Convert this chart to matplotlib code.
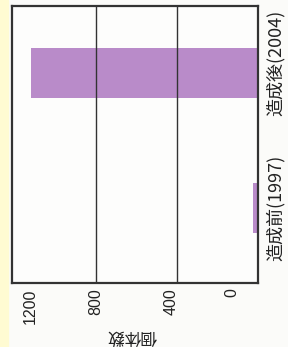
import matplotlib.pyplot as plt
import matplotlib.transforms as mtransforms

plt.rcParams['font.family'] = ['Noto Sans CJK JP', 'DejaVu Sans']

# data (individual counts)
periods = ['造成前(1997)', '造成後(2004)']
counts = [25, 1120]
value_ticks = [1200, 800, 400, 0]
value_labels = ['1200', '800', '400', '0']
# the printed tick labels sit slightly off their grid lines in the scan
label_shift_px = [15, 0, -6, -26]
period_shift_px = [0, 10]

fig = plt.figure(figsize=(2.88, 3.47), dpi=100)
fig.patch.set_facecolor('#fbfbf9')
# pale yellow strip along the left edge of the scan
fig.add_artist(plt.Rectangle((0, 0), 8 / 288, 1, transform=fig.transFigure,
                             color='#fffbd2', zorder=0))

ax = fig.add_axes([12 / 288, 1 - 283 / 347, 246 / 288, 277 / 347])
ax.set_facecolor('#fdfdfc')

pos = range(len(periods))
ax.barh(pos, counts, height=0.37, color='#b98bc9', zorder=2)

ax.set_xlim(1215, 0)
ax.set_ylim(-0.556, 1.496)

ax.set_xticks(value_ticks)
ax.set_xticklabels(value_labels, rotation=90, fontsize=11.5,
                   family=['Liberation Sans', 'DejaVu Sans'], color='#222222')
ax.tick_params(axis='x', length=0, pad=4)

ax.yaxis.tick_right()
ax.set_yticks(list(pos))
ax.set_yticklabels(periods, rotation=90, fontsize=13, va='center', color='#222222')
ax.tick_params(axis='y', length=0, pad=6)

# shift labels after tick_params (it resets the label transforms)
for lab, dx in zip(ax.get_xticklabels(), label_shift_px):
    lab.set_transform(lab.get_transform() +
                      mtransforms.ScaledTranslation(dx / 100, 0, fig.dpi_scale_trans))
for tick, dy in zip(ax.yaxis.get_major_ticks(), period_shift_px):
    tick.label2.set_transform(tick.label2.get_transform() +
                              mtransforms.ScaledTranslation(0, dy / 100, fig.dpi_scale_trans))

ax.grid(axis='x', color='#333333', linewidth=1.0, zorder=1)
ax.xaxis.get_gridlines()[0].set_visible(False)
ax.set_axisbelow(False)
for s in ax.spines.values():
    s.set_color('#333333')
    s.set_linewidth(1.6)

fig.text(132 / 288, 1 - 336 / 347, '個体数', rotation=180, ha='center', va='center',
         fontsize=12, color='#222222')

fig.savefig('out.png', dpi=100, facecolor=fig.get_facecolor())
